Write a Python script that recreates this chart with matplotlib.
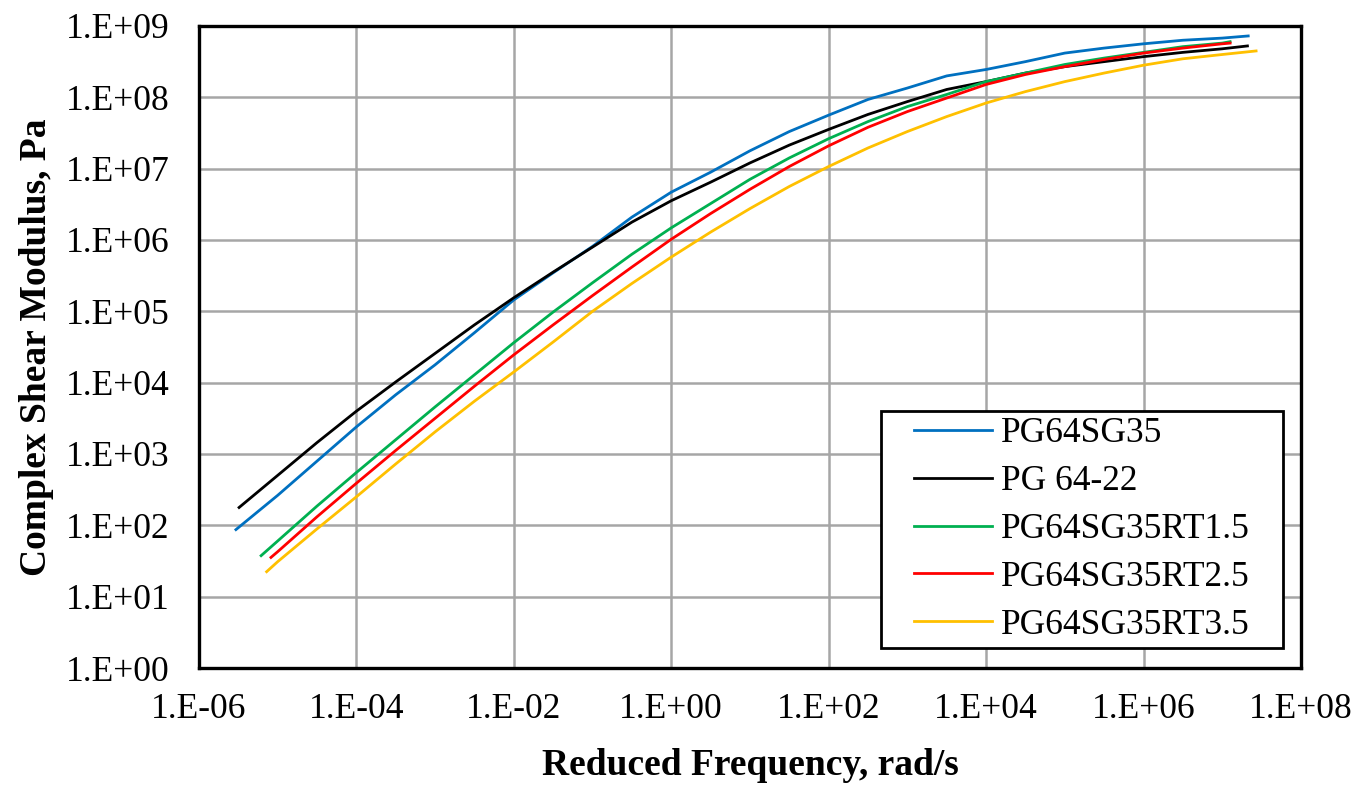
import matplotlib
matplotlib.use('Agg')
import matplotlib.pyplot as plt
from matplotlib.patches import Rectangle
from matplotlib.ticker import FuncFormatter, LogLocator, NullLocator
import numpy as np

plt.rcParams['font.family'] = ['Liberation Serif', 'DejaVu Serif']

# log10 of reduced frequency (rad/s) and log10 of |G*| (Pa)
sg35_logx = [-5.53, -5.0, -4.5, -4.0, -3.5, -3.0, -2.5, -2.0, -1.5, -1.0, -0.5, 0.0, 0.5, 1.0,
             1.5, 2.0, 2.5, 3.0, 3.5, 4.0, 4.5, 5.0, 5.5, 6.0, 6.5, 7.0, 7.33]
sg35_logy = [1.94, 2.42, 2.90, 3.38, 3.83, 4.25, 4.70, 5.16, 5.54, 5.91, 6.32, 6.67, 6.95, 7.25,
             7.52, 7.75, 7.97, 8.13, 8.30, 8.39, 8.50, 8.62, 8.69, 8.75, 8.80, 8.83, 8.86]

pg6422_logx = [-5.49, -5.0, -4.5, -4.0, -3.5, -3.0, -2.5, -2.0, -1.5, -1.0, -0.5, 0.0, 0.5, 1.0,
               1.5, 2.0, 2.5, 3.0, 3.5, 4.0, 4.5, 5.0, 5.5, 6.0, 6.5, 7.0, 7.32]
pg6422_logy = [2.25, 2.70, 3.16, 3.60, 4.01, 4.41, 4.81, 5.19, 5.55, 5.90, 6.25, 6.55, 6.81, 7.08,
               7.33, 7.55, 7.76, 7.94, 8.11, 8.22, 8.34, 8.43, 8.50, 8.57, 8.63, 8.68, 8.72]

rt15_logx = [-5.21, -5.0, -4.5, -4.0, -3.5, -3.0, -2.5, -2.0, -1.5, -1.0, -0.5, 0.0, 0.5, 1.0,
             1.5, 2.0, 2.5, 3.0, 3.5, 4.0, 4.5, 5.0, 5.5, 6.0, 6.5, 7.0, 7.10]
rt15_logy = [1.575, 1.78, 2.27, 2.74, 3.20, 3.66, 4.11, 4.56, 4.99, 5.40, 5.80, 6.17, 6.51, 6.85,
             7.15, 7.42, 7.66, 7.87, 8.04, 8.22, 8.34, 8.46, 8.55, 8.63, 8.71, 8.76, 8.78]

rt25_logx = [-5.085, -5.0, -4.5, -4.0, -3.5, -3.0, -2.5, -2.0, -1.5, -1.0, -0.5, 0.0, 0.5, 1.0,
             1.5, 2.0, 2.5, 3.0, 3.5, 4.0, 4.5, 5.0, 5.5, 6.0, 6.5, 7.0, 7.10]
rt25_logy = [1.55, 1.63, 2.12, 2.59, 3.05, 3.50, 3.95, 4.39, 4.81, 5.22, 5.62, 6.01, 6.37, 6.71,
             7.03, 7.32, 7.58, 7.80, 7.99, 8.18, 8.32, 8.43, 8.53, 8.62, 8.69, 8.75, 8.76]

rt35_logx = [-5.14, -5.0, -4.5, -4.0, -3.5, -3.0, -2.5, -2.0, -1.5, -1.0, -0.5, 0.0, 0.5, 1.0,
             1.5, 2.0, 2.5, 3.0, 3.5, 4.0, 4.5, 5.0, 5.5, 6.0, 6.5, 7.0, 7.43]
rt35_logy = [1.35, 1.49, 1.95, 2.40, 2.86, 3.31, 3.74, 4.15, 4.57, 5.00, 5.39, 5.76, 6.11, 6.44,
             6.75, 7.03, 7.29, 7.52, 7.73, 7.92, 8.08, 8.22, 8.34, 8.45, 8.54, 8.60, 8.65]

series = [
    ('PG64SG35', sg35_logx, sg35_logy, '#0070C0'),
    ('PG 64-22', pg6422_logx, pg6422_logy, '#000000'),
    ('PG64SG35RT1.5', rt15_logx, rt15_logy, '#00B050'),
    ('PG64SG35RT2.5', rt25_logx, rt25_logy, '#FF0000'),
    ('PG64SG35RT3.5', rt35_logx, rt35_logy, '#FFC000'),
]

fig = plt.figure(figsize=(13.57, 7.87), dpi=100)
ax = fig.add_axes([0.1466, 0.1512, 0.8121, 0.8158])

for label, lx, ly, color in series:
    ax.plot(10 ** np.array(lx), 10 ** np.array(ly), color=color, lw=2.0, label=label,
            solid_joinstyle='round')

ax.set_xscale('log')
ax.set_yscale('log')
ax.set_xlim(1e-6, 1e8)
ax.set_ylim(1e0, 1e9)

ax.xaxis.set_major_locator(LogLocator(base=100.0, numticks=20))
ax.yaxis.set_major_locator(LogLocator(base=10.0, numticks=20))
ax.xaxis.set_minor_locator(NullLocator())
ax.yaxis.set_minor_locator(NullLocator())

fmt = FuncFormatter(lambda v, pos: '1.E{:+03d}'.format(int(round(np.log10(v)))))
ax.xaxis.set_major_formatter(fmt)
ax.yaxis.set_major_formatter(fmt)
ax.tick_params(axis='both', length=0, labelsize=25.5)
ax.tick_params(axis='x', pad=18)
ax.tick_params(axis='y', pad=21)

ax.grid(True, color='#A6A6A6', lw=1.8)
ax.set_axisbelow(True)
for sp in ax.spines.values():
    sp.set_linewidth(2.4)
    sp.set_color('black')

ax.set_xlabel('Reduced Frequency, rad/s', fontsize=27, fontweight='bold', labelpad=16)
ax.set_ylabel('Complex Shear Modulus, Pa', fontsize=27, fontweight='bold', labelpad=9)

# legend without its own frame; a box with wider side margins is drawn round it
leg = ax.legend(loc='lower right', bbox_to_anchor=(0.9537, 0.041), fontsize=25.5,
                frameon=False, borderaxespad=0, borderpad=0, handlelength=2.2,
                handletextpad=0.25, labelspacing=0.42)
fig.canvas.draw()
bb = leg.get_window_extent().transformed(fig.transFigure.inverted())
padx, pady = 33 / 1357, 6 / 787
frame = Rectangle((bb.x0 - padx, bb.y0 - pady), bb.width + 2 * padx, bb.height + 2 * pady,
                  transform=fig.transFigure, facecolor='white', edgecolor='black',
                  lw=2.0, zorder=4)
fig.add_artist(frame)
leg.set_zorder(5)
fig.add_artist(leg)

fig.savefig('out.png', dpi=100)
